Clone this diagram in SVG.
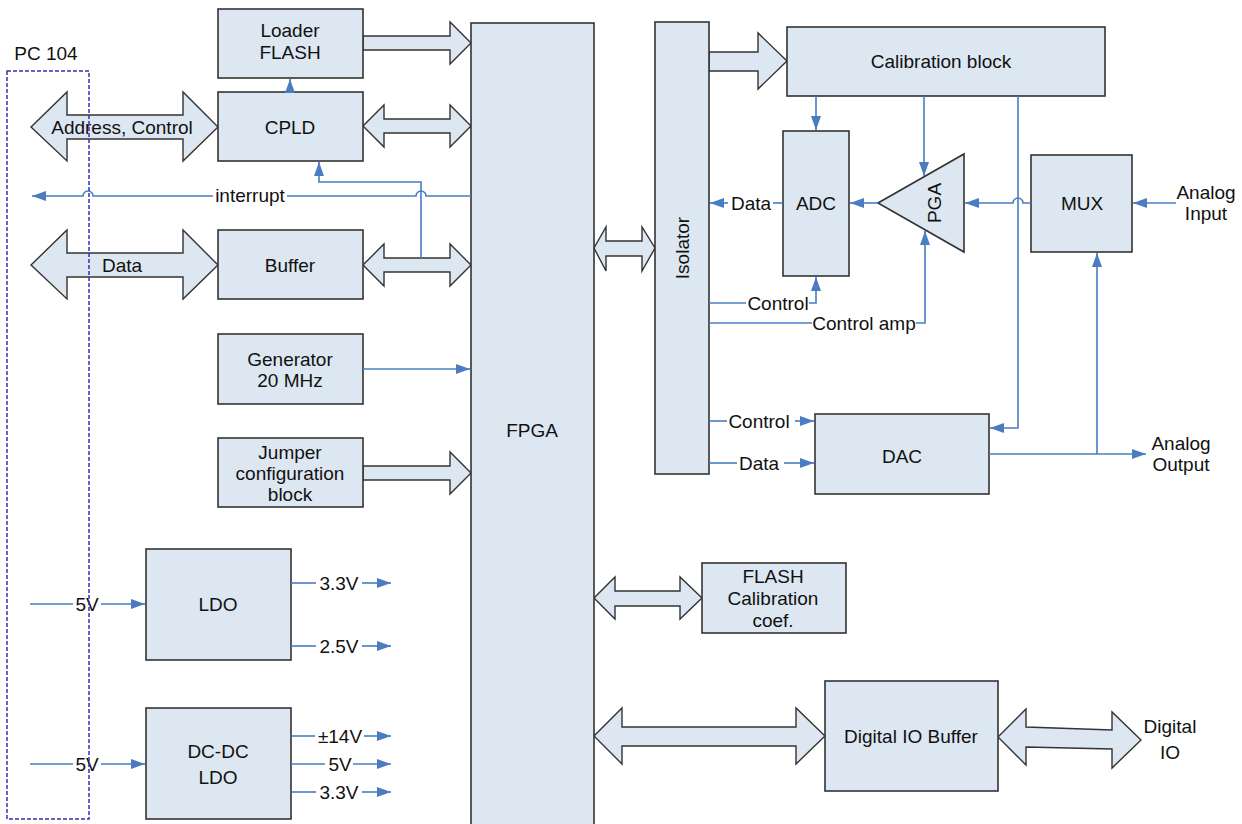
<svg xmlns="http://www.w3.org/2000/svg" width="1242" height="824" viewBox="0 0 1242 824">
<defs>
<style>
.box{fill:#dde7f2;stroke:#333;stroke-width:1.6}
.big{fill:#dde7f2;stroke:#333;stroke-width:1.4;stroke-linejoin:miter}
.ln{fill:none;stroke:#4a7cc2;stroke-width:1.6}
.ar{fill:none;stroke:#4a7cc2;stroke-width:1.6;marker-end:url(#ah)}
text{font-family:"Liberation Sans",Arial,sans-serif;font-size:19px;fill:#111;text-anchor:middle;dominant-baseline:central}
</style>
<marker id="ah" viewBox="0 0 14 10" refX="14" refY="5" markerWidth="14" markerHeight="10" markerUnits="userSpaceOnUse" orient="auto">
<path d="M0,0 L14,5 L0,10 z" fill="#4a7cc2"/>
</marker>
</defs>

<g id="bus-arrows">
<polygon class="big" points="31,127 67,92 67,115 183,115 183,92 218,127 183,161 183,139 67,139 67,161"/>
<polygon class="big" points="31,265 67,230 67,253 183,253 183,230 218,265 183,299 183,277 67,277 67,299"/>
<polygon class="big" points="363,36 450,36 450,22 471,43 450,64 450,50 363,50"/>
<polygon class="big" points="363,126 384,105 384,119 450,119 450,105 471,126 450,147 450,133 384,133 384,147"/>
<polygon class="big" points="363,265 384,244 384,258 450,258 450,244 471,265 450,286 450,272 384,272 384,286"/>
<polygon class="big" points="363,466 450,466 450,452 471,473 450,494 450,480 363,480"/>
<polygon class="big" points="709,52 758,52 758,33 787,61 758,89 758,71 709,71"/>
<polygon class="big" points="594,248 606,227 606,241 642,241 642,227 655,248 642,271 642,256 606,256 606,271"/>
<polygon class="big" points="594,598 615,577 615,591 680,591 680,577 702,598 680,619 680,606 615,606 615,619"/>
<polygon class="big" points="594,736 622,708 622,727 796,727 796,708 825,736 796,764 796,746 622,746 622,764"/>
<polygon class="big" points="998,737 1026,709 1026,727 1112,730 1112,712 1141,740 1112,768 1112,749 1026,747 1026,765"/>
<text x="122" y="127">Address, Control</text>
<text x="122" y="265">Data</text>
</g>

<g id="loader-flash"><rect class="box" x="218" y="9" width="145" height="69"/><text x="290" y="30">Loader</text><text x="290" y="52">FLASH</text></g>
<g id="cpld"><rect class="box" x="218" y="92" width="145" height="69"/><text x="290" y="127">CPLD</text></g>
<g id="buffer"><rect class="box" x="218" y="230" width="145" height="69"/><text x="290" y="265">Buffer</text></g>
<g id="generator"><rect class="box" x="218" y="334" width="145" height="70"/><text x="290" y="359">Generator</text><text x="290" y="380">20 MHz</text></g>
<g id="jumper"><rect class="box" x="218" y="438" width="145" height="69"/><text x="290" y="452">Jumper</text><text x="290" y="473">configuration</text><text x="290" y="494">block</text></g>
<g id="ldo"><rect class="box" x="146" y="549" width="145" height="111"/><text x="218" y="604">LDO</text></g>
<g id="dcdc"><rect class="box" x="146" y="708" width="145" height="111"/><text x="218" y="751">DC-DC</text><text x="218" y="777">LDO</text></g>
<g id="fpga"><rect class="box" x="471" y="23" width="123" height="815"/><text x="532" y="430">FPGA</text></g>
<g id="isolator"><rect class="box" x="655" y="22" width="54" height="452"/><text transform="translate(682,248) rotate(-90)">Isolator</text></g>
<g id="calibration"><rect class="box" x="787" y="27" width="318" height="69"/><text x="941" y="61">Calibration block</text></g>
<g id="adc"><rect class="box" x="783" y="131" width="66" height="145"/><text x="816" y="203">ADC</text></g>
<g id="pga"><polygon class="box" points="878,203 964,154 964,252"/><text transform="translate(934,203) rotate(-90)">PGA</text></g>
<g id="mux"><rect class="box" x="1031" y="155" width="101" height="97"/><text x="1082" y="203">MUX</text></g>
<g id="dac"><rect class="box" x="815" y="414" width="174" height="80"/><text x="902" y="456">DAC</text></g>
<g id="flash-cal"><rect class="box" x="702" y="563" width="144" height="70"/><text x="773" y="576">FLASH</text><text x="773" y="598">Calibration</text><text x="773" y="620">coef.</text></g>
<g id="dio-buffer"><rect class="box" x="825" y="681" width="173" height="110"/><text x="911" y="736">Digital IO Buffer</text></g>

<g id="connectors">
<path class="ar" d="M290,92 V79"/>
<path class="ln" d="M471,196 H426 A5,5 0 0 0 416,196 H287"/>
<path class="ar" d="M213,196 H93 A5,5 0 0 0 83,196 H32"/>
<text x="250" y="195">interrupt</text>
<path class="ar" d="M421,258 V182 H319 V162"/>
<path class="ar" d="M363,369 H470"/>

<path class="ln" d="M30,604 H73"/><text x="87" y="604">5V</text><path class="ar" d="M101,604 H145"/>
<path class="ln" d="M291,583 H316"/><text x="339" y="583">3.3V</text><path class="ar" d="M362,583 H391"/>
<path class="ln" d="M291,646 H316"/><text x="339" y="646">2.5V</text><path class="ar" d="M362,646 H391"/>
<path class="ln" d="M30,764 H73"/><text x="87" y="764">5V</text><path class="ar" d="M101,764 H145"/>
<path class="ln" d="M291,736 H315"/><text x="340" y="736">±14V</text><path class="ar" d="M364,736 H391"/>
<path class="ln" d="M291,764 H325"/><text x="340" y="764">5V</text><path class="ar" d="M353,764 H391"/>
<path class="ln" d="M291,792 H316"/><text x="339" y="792">3.3V</text><path class="ar" d="M362,792 H391"/>

<path class="ar" d="M816,96 V130"/>
<path class="ar" d="M924,96 V176"/>
<path class="ar" d="M1018,96 V428 H990"/>
<path class="ln" d="M783,203 H773"/><text x="751" y="203">Data</text><path class="ar" d="M728,203 H710"/>
<path class="ar" d="M878,203 H850"/>
<path class="ar" d="M1031,203 H1023 A5,5 0 0 0 1013,203 H965"/>
<path class="ar" d="M1176,203 H1133"/>
<text x="1206" y="192">Analog</text><text x="1206" y="213">Input</text>
<path class="ln" d="M709,303 H746"/><text x="778" y="303">Control</text><path class="ar" d="M809,303 H816 V277"/>
<path class="ln" d="M709,323 H812"/><text x="864" y="323">Control amp</text><path class="ar" d="M916,323 H925 V231"/>
<path class="ln" d="M709,421 H727"/><text x="759" y="421">Control</text><path class="ar" d="M795,421 H814"/>
<path class="ln" d="M709,463 H737"/><text x="759" y="463">Data</text><path class="ar" d="M784,463 H814"/>
<path class="ar" d="M989,454 H1146"/>
<path class="ar" d="M1097,454 V253"/>
<text x="1181" y="443">Analog</text><text x="1181" y="464">Output</text>
<text x="1170" y="726">Digital</text><text x="1170" y="752">IO</text>
</g>

<g id="pc104">
<rect x="7" y="71" width="82" height="748" fill="none" stroke="#3b30a8" stroke-width="1.5" stroke-dasharray="4,2"/>
<text x="46" y="53">PC 104</text>
</g>
</svg>
